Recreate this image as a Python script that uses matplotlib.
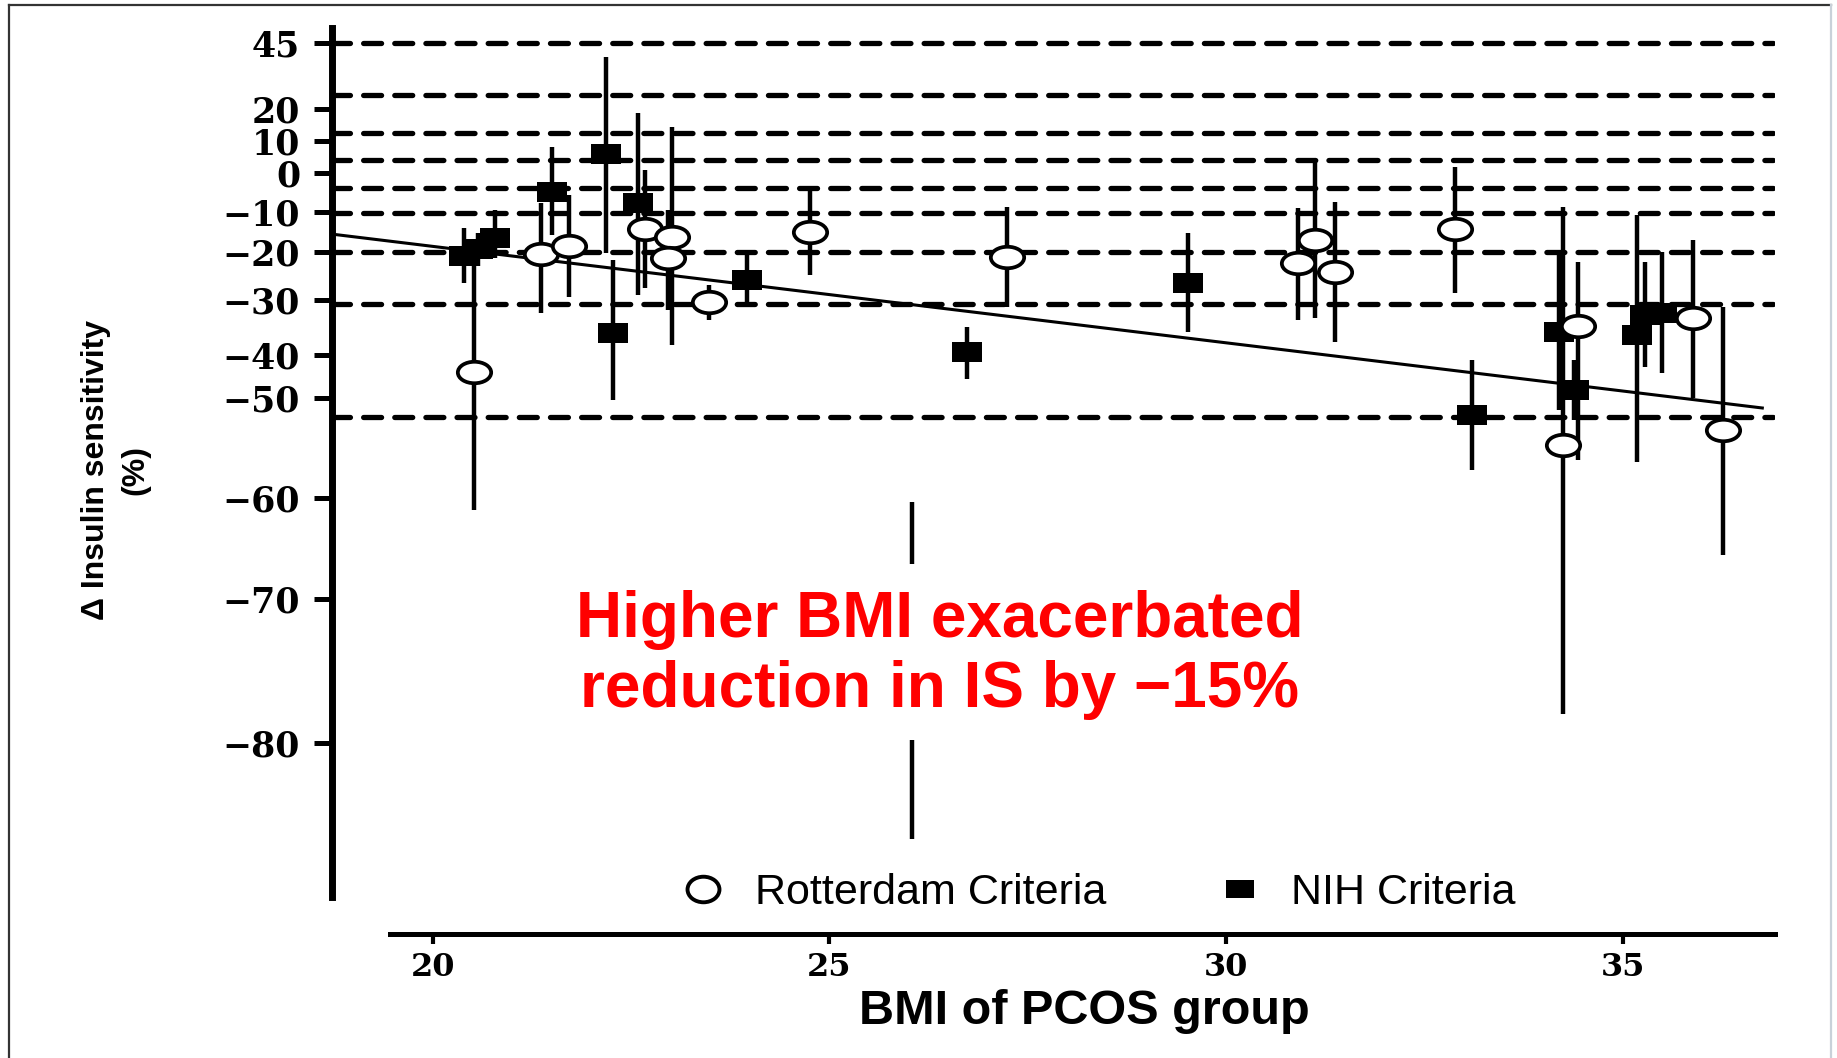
import numpy as np
import matplotlib
matplotlib.use('Agg')
import matplotlib.pyplot as plt
from matplotlib.path import Path
from matplotlib.transforms import Affine2D
from matplotlib.lines import Line2D

# axis values
y_ticks = [-80, -70, -60, -50, -40, -30, -20, -10, 0, 10, 20, 45]
y_tick_labels = ['−80', '−70', '−60', '−50', '−40', '−30', '−20', '−10', '0', '10', '20', '45']
x_ticks = [20, 25, 30, 35]
x_tick_labels = ['20', '25', '30', '35']

# Rotterdam criteria studies (open circles): BMI, change in IS, CI low / high
rot_bmi = [20.52, 21.37, 21.72, 22.67, 23.01, 22.96, 23.48, 24.75, 27.24,
           30.91, 31.12, 31.37, 32.89, 34.25, 34.44, 35.89, 36.27]
rot_is = [-43.9, -20.4, -18.5, -14.3, -16.3, -21.3, -30.4, -15.0, -21.0,
          -22.3, -17.0, -24.2, -14.3, -54.7, -34.7, -33.3, -53.2]
rot_lo = [-61.2, -32.4, -29.4, -27.5, -38.2, -31.8, -33.6, -24.8, -31.3,
          -33.6, -33.3, -37.6, -28.5, -78.0, -56.2, -50.0, -65.6]
rot_hi = [-20.6, -7.7, -5.6, 0.9, 14.4, -9.5, -26.9, -3.9, -8.7,
          -9.0, 3.4, -7.4, 1.9, -8.7, -22.1, -17.0, -31.3]

# NIH criteria studies (filled squares)
nih_bmi = [20.40, 20.57, 20.79, 21.50, 22.19, 22.59, 22.27, 23.96, 26.73,
           29.52, 33.10, 34.20, 34.38, 35.18, 35.28, 35.50]
nih_is = [-20.8, -19.3, -16.5, -4.9, 5.9, -7.7, -36.0, -25.8, -39.5,
          -26.5, -51.7, -35.8, -48.1, -36.4, -32.7, -32.4]
nih_lo = [-26.5, -22.9, -21.3, -15.8, -20.2, -29.0, -50.2, -30.5, -45.6,
          -35.8, -57.2, -51.2, -52.2, -56.4, -42.8, -44.2]
nih_hi = [-14.0, -15.3, -9.5, 8.1, 39.7, 18.8, -21.7, -20.2, -34.9,
          -15.3, -41.2, -20.0, -41.2, -10.8, -22.1, -20.0]

# dashed reference levels
ref_levels = [45, 25.3, 12.5, 4.1, -3.9, -10.3, -20, -30.7, -51.9]

# meta-regression line
fit_bmi = [18.76, 36.76]
fit_is = [-15.6, -51.0]

# lone bar behind the annotation
bar_bmi = 26.04
bar_lo = [-66.5, -86.7]
bar_hi = [-60.4, -79.8]

# piecewise y scale: each value is pinned to a height on the axis
scale_vals = np.array([-100, -80, -70, -60, -50, -40, -30, -20, -10, 0, 10, 20, 45, 60])
scale_pos = -np.array([1031, 743, 599, 498, 398, 355, 300, 252, 212, 173, 141, 109, 43, 3.4])


def forward(v):
    return np.interp(v, scale_vals, scale_pos)


def inverse(p):
    return np.interp(p, scale_pos, scale_vals)


# wide markers
oval = Path.unit_circle().transformed(Affine2D().scale(1.55, 1.0))
box = Path([(-1.6, -1), (1.6, -1), (1.6, 1), (-1.6, 1), (-1.6, -1)],
           [Path.MOVETO, Path.LINETO, Path.LINETO, Path.LINETO, Path.CLOSEPOLY])
oval_leg = Path.unit_circle().transformed(Affine2D().scale(1.25, 1.0))

W, H = 1837, 1058
fig = plt.figure(figsize=(W / 100, H / 100), dpi=100)
ax = fig.add_axes([332 / W, 1 - 897 / H, (1775 - 332) / W, (897 - 28) / H])

ax.set_yscale('function', functions=(forward, inverse))
ax.set_ylim(-90.7, 50.7)
ax.set_xlim(18.73, 36.92)

for lvl in ref_levels:
    ax.axhline(lvl, xmin=0, xmax=0.9986, color='black', lw=3.8,
               ls=(0, (3.4, 2.5)), dash_capstyle='round', zorder=1)

ax.plot(fit_bmi, fit_is, color='black', lw=2.2, zorder=2)
ax.vlines([bar_bmi, bar_bmi], bar_lo, bar_hi, color='black', lw=3.2, zorder=2)

nih_bmi = np.array(nih_bmi)
nih_is = np.array(nih_is)
rot_bmi = np.array(rot_bmi)
rot_is = np.array(rot_is)

ax.errorbar(nih_bmi, nih_is, yerr=[nih_is - np.array(nih_lo), np.array(nih_hi) - nih_is],
            fmt='none', ecolor='black', elinewidth=3.2, capsize=0, zorder=3)
ax.plot(nih_bmi, nih_is, ls='none', marker=box, ms=22, mfc='black', mec='black',
        mew=0, zorder=4)
ax.errorbar(rot_bmi, rot_is, yerr=[rot_is - np.array(rot_lo), np.array(rot_hi) - rot_is],
            fmt='none', ecolor='black', elinewidth=3.2, capsize=0, zorder=5)
ax.plot(rot_bmi, rot_is, ls='none', marker=oval, ms=24, mfc='white', mec='black',
        mew=2.7, zorder=6)

# axes styling
ax.spines['top'].set_visible(False)
ax.spines['right'].set_visible(False)
ax.spines['left'].set_linewidth(5)
ax.spines['bottom'].set_linewidth(3.6)
ax.spines['bottom'].set_bounds(19.46, 36.92)
ax.spines['bottom'].set_position(('outward', 26.6))

ax.set_yticks(y_ticks, y_tick_labels, fontfamily='DejaVu Serif', fontweight='bold', fontsize=25)
ax.set_xticks(x_ticks, x_tick_labels, fontfamily='DejaVu Serif', fontweight='bold', fontsize=23)
ax.yaxis.set_minor_locator(matplotlib.ticker.NullLocator())
ax.tick_params(axis='y', length=13, width=3.6, pad=10)
ax.tick_params(axis='x', length=7, width=3, pad=6)

fig.text(1084 / W, 1 - 1011 / H, 'BMI of PCOS group', ha='center', va='center',
         fontfamily='Liberation Sans', fontweight='bold', fontsize=35)
fig.text(116 / W, 1 - 470 / H, 'Δ Insulin sensitivity\n(%)', rotation=90,
         ha='center', va='center', multialignment='center', linespacing=1.4,
         fontfamily='Liberation Sans', fontweight='bold', fontsize=23)

fig.text(940 / W, 1 - 655 / H, 'Higher BMI exacerbated\nreduction in IS by −15%',
         ha='center', va='center', multialignment='center', color='#ff0000',
         fontfamily='Liberation Sans', fontweight='bold', fontsize=46)

handles = [
    Line2D([], [], ls='none', marker=oval_leg, ms=23, mfc='white', mec='black', mew=2.8),
    Line2D([], [], ls='none', marker=box, ms=20, mfc='black', mec='black', mew=0),
]
fig.legend(handles, ['Rotterdam Criteria', 'NIH Criteria'], ncol=2, loc='center',
           bbox_to_anchor=(1088 / W, 1 - 893 / H), frameon=False,
           prop={'family': 'Liberation Sans', 'size': 31},
           handlelength=2, handletextpad=0.2, columnspacing=2.1)

# outer frame of the panel
fig.add_artist(Line2D([8.5 / W, 8.5 / W], [0, 1 - 5 / H], transform=fig.transFigure,
                      color='#333333', lw=1.6))
fig.add_artist(Line2D([8.5 / W, 1831 / W], [1 - 5 / H, 1 - 5 / H], transform=fig.transFigure,
                      color='#333333', lw=1.6))
fig.add_artist(Line2D([1831 / W, 1831 / W], [0, 1 - 5 / H], transform=fig.transFigure,
                      color='#c9d1d9', lw=1.6))

fig.savefig('out.png', dpi=100)
